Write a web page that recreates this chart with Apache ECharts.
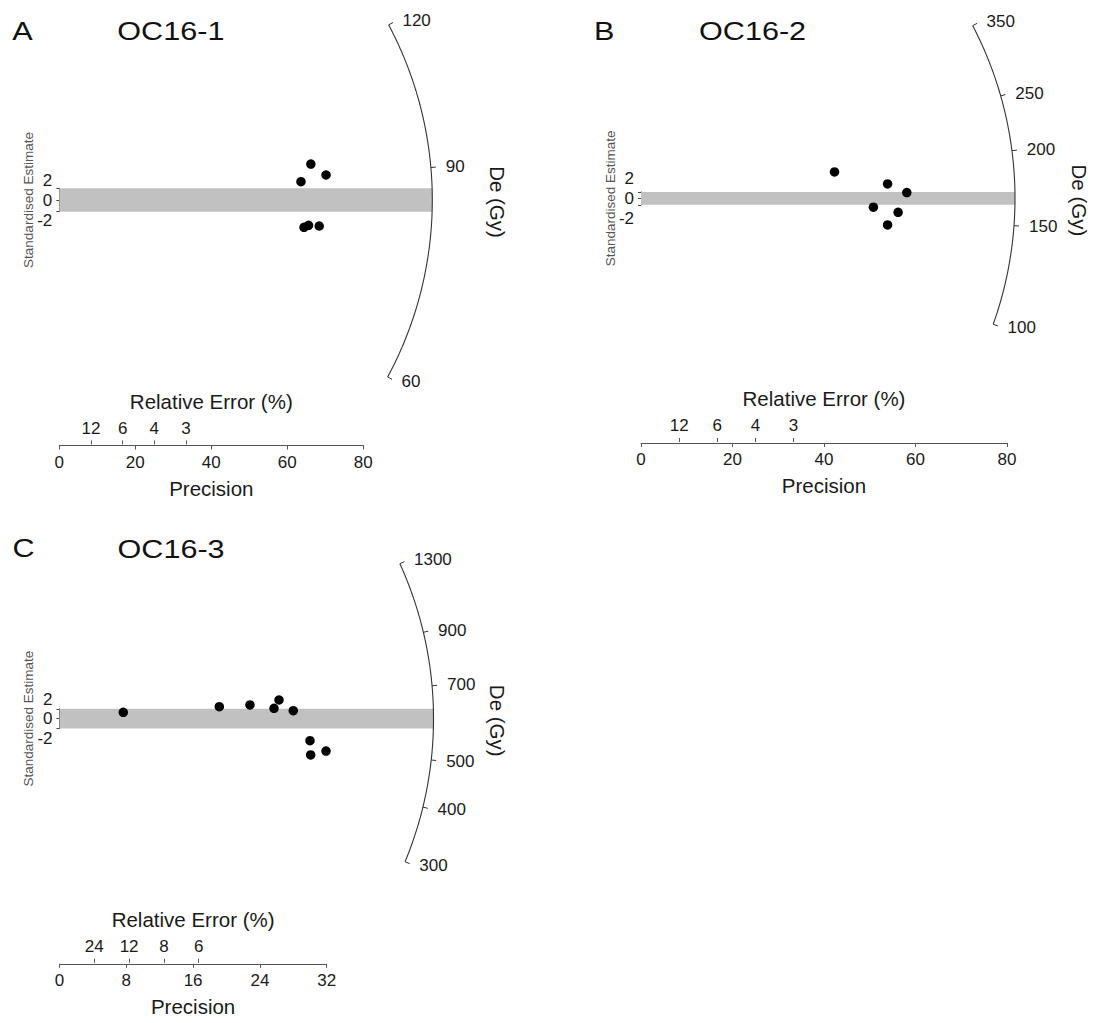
<!DOCTYPE html>
<html>
<head>
<meta charset="utf-8">
<script src="https://cdn.jsdelivr.net/npm/echarts@6/dist/echarts.min.js"></script>
<style>html,body{margin:0;padding:0;background:#fff}#c{width:1098px;height:1023px}</style>
</head>
<body>
<div id="c"></div>
<script>
// ---------------- data ----------------
const panelLetters = ['A', 'B', 'C'];
const sampleNames = ['OC16-1', 'OC16-2', 'OC16-3'];
const centralDe = [85.05, 166.5, 603];           // De (Gy) at standardised estimate 0
const deTicksA = [60, 90, 120];
const deTicksB = [100, 150, 200, 250, 350];
const deTicksC = [300, 400, 500, 700, 900, 1300];
const precisionA = [66.2, 70.2, 63.6, 64.4, 65.6, 68.4];
const stdEstA    = [6.13, 4.26, 3.12, -4.65, -4.31, -4.43];
const precisionB = [42.3, 53.9, 58.1, 50.8, 56.2, 53.9];
const stdEstB    = [8.26, 4.52, 1.81, -2.74, -4.33, -8.26];
const precisionC = [7.64, 19.14, 22.81, 25.69, 26.29, 28.0, 30.0, 30.08, 31.92];
const stdEstC    = [1.29, 2.42, 2.77, 2.10, 3.78, 1.62, -4.44, -7.33, -6.53];
const precisionMax = [80, 80, 32];
const precisionStep = [20, 20, 8];
const relErrTicksA = [12, 6, 4, 3];
const relErrTicksB = [12, 6, 4, 3];
const relErrTicksC = [24, 12, 8, 6];
const stdEstTicks = [-2, 0, 2];

// ---------------- layout (pixels) ----------------
const FONT = '"Liberation Sans", Arial, Helvetica, sans-serif';
const TXT = '#1a1a1a';
const layout = [
  { x0: 59.3, y0: 200,   sx: 3.80,  sy: 5.87,  R: 373, axisY: 445 },
  { x0: 641,  y0: 198.4, sx: 4.575, sy: 3.207, R: 374, axisY: 442.5 },
  { x0: 59.5, y0: 718.7, sx: 8.35,  sy: 4.95,  R: 374, axisY: 963.3 }
];
const panels = [
  { de: deTicksA, prec: precisionA, est: stdEstA, re: relErrTicksA },
  { de: deTicksB, prec: precisionB, est: stdEstB, re: relErrTicksB },
  { de: deTicksC, prec: precisionC, est: stdEstC, re: relErrTicksC }
];

const grids = [], xAxes = [], yAxes = [], series = [], graphics = [];

panels.forEach((pd, i) => {
  const L = layout[i];
  const de0 = centralDe[i];
  const f = L.sy / L.sx;
  // point on the De arc (log scale radial axis) at pixel radius rpx
  const arcXY = (de, rpx) => {
    const d = Math.log(de / de0);
    const r = rpx / L.sx;
    const x = r / Math.sqrt(1 + f * f * d * d);
    return [x, d * x];
  };

  // ---- main plotting grid ----
  const H = 190, W = 420;
  const gMain = grids.length;
  grids.push({ left: L.x0, top: L.y0 - H, width: W, height: 2 * H });
  const ax = xAxes.length, ay = yAxes.length;
  xAxes.push({ gridIndex: gMain, type: 'value', min: 0, max: W / L.sx, show: false });
  yAxes.push({ gridIndex: gMain, type: 'value', min: -H / L.sy, max: H / L.sy, show: false });

  const bandHalf = Math.max(...stdEstTicks);
  // grey +/-2 band
  series.push({
    type: 'custom', xAxisIndex: ax, yAxisIndex: ay, z: 1, silent: true, clip: false,
    data: [[0, 0]],
    renderItem: (params, api) => {
      const r = L.R / L.sx;
      const xr = Math.sqrt(r * r - bandHalf * bandHalf * f * f);
      const pts = [[0, -bandHalf], [0, bandHalf], [xr, bandHalf], [xr, -bandHalf]].map(q => api.coord(q));
      return { type: 'polygon', shape: { points: pts }, style: { fill: '#c1c1c1' } };
    }
  });
  // De arc
  series.push({
    type: 'custom', xAxisIndex: ax, yAxisIndex: ay, z: 2, silent: true, clip: false,
    data: [[0, 0]],
    renderItem: (params, api) => {
      const lo = Math.min(...pd.de), hi = Math.max(...pd.de);
      const pts = [];
      const N = 160;
      for (let k = 0; k <= N; k++) {
        const v = lo * Math.pow(hi / lo, k / N);
        pts.push(api.coord(arcXY(v, L.R)));
      }
      return { type: 'polyline', shape: { points: pts }, style: { stroke: '#333', lineWidth: 1.1, fill: null } };
    }
  });
  // De ticks and labels
  series.push({
    type: 'custom', xAxisIndex: ax, yAxisIndex: ay, z: 2, silent: true, clip: false,
    data: pd.de.map(v => [v, 0]),
    renderItem: (params, api) => {
      const v = pd.de[params.dataIndex];
      const a = api.coord(arcXY(v, L.R));
      const b = api.coord(arcXY(v, L.R + 5));
      const c = api.coord(arcXY(v, L.R + 10));
      return {
        type: 'group',
        children: [
          { type: 'line', shape: { x1: a[0], y1: a[1], x2: b[0], y2: b[1] }, style: { stroke: '#333', lineWidth: 1 } },
          { type: 'text', x: c[0] + 5, y: c[1], style: { text: String(v), fill: TXT, fontSize: 17, fontFamily: FONT, align: 'left', verticalAlign: 'middle' } }
        ]
      };
    }
  });
  // data points
  series.push({
    type: 'scatter', xAxisIndex: ax, yAxisIndex: ay, z: 5, silent: true,
    symbol: 'circle', symbolSize: 9.5, itemStyle: { color: '#000', opacity: 1 },
    data: pd.prec.map((x, k) => [x, pd.est[k]])
  });

  // ---- precision / relative error axis ----
  const gAx = grids.length;
  grids.push({ left: L.x0, top: L.axisY - 0.5, width: L.sx * precisionMax[i], height: 1 });
  const reVals = pd.re.map(r => 100 / r);
  xAxes.push({
    gridIndex: gAx, type: 'value', position: 'bottom', min: 0, max: precisionMax[i], interval: precisionStep[i],
    name: 'Precision', nameLocation: 'middle', nameGap: 32,
    nameTextStyle: { fontSize: 20.5, color: TXT, fontFamily: FONT },
    axisLine: { show: true, lineStyle: { color: '#555', width: 1 } },
    axisTick: { show: true, length: 4, lineStyle: { color: '#555' } },
    axisLabel: { show: true, margin: 8, fontSize: 17, color: TXT, fontFamily: FONT },
    splitLine: { show: false }
  });
  xAxes.push({
    gridIndex: gAx, type: 'value', position: 'top', min: 0, max: precisionMax[i],
    name: 'Relative Error (%)', nameLocation: 'middle', nameGap: 33,
    nameTextStyle: { fontSize: 20.5, color: TXT, fontFamily: FONT },
    axisLine: { show: false },
    axisTick: { show: true, length: 4, customValues: reVals, lineStyle: { color: '#555' } },
    axisLabel: { show: true, customValues: reVals, margin: 8, fontSize: 17, color: TXT, fontFamily: FONT,
                 formatter: v => String(Math.round(100 / v)) },
    splitLine: { show: false }
  });
  yAxes.push({ gridIndex: gAx, type: 'value', show: false });

  // ---- standardised estimate bracket ----
  const gBr = grids.length;
  grids.push({ left: L.x0, top: L.y0 - 2 * L.sy, width: 10, height: 4 * L.sy });
  xAxes.push({ gridIndex: gBr, type: 'value', show: false });
  yAxes.push({
    gridIndex: gBr, type: 'value', position: 'left', min: -2, max: 2, interval: 2,
    axisLine: { show: true, lineStyle: { color: '#444', width: 1 } },
    axisTick: { show: true, length: 3, lineStyle: { color: '#444' } },
    axisLabel: { show: false }, splitLine: { show: false }
  });
  // labels of the bracket (spread out like the original)
  const gLb = grids.length;
  grids.push({ left: L.x0, top: L.y0 - 19.5, width: 10, height: 39.5 });
  xAxes.push({ gridIndex: gLb, type: 'value', show: false });
  yAxes.push({
    gridIndex: gLb, type: 'value', position: 'left', min: -2, max: 2, interval: 2,
    axisLine: { show: false }, axisTick: { show: false }, splitLine: { show: false },
    axisLabel: { show: true, margin: 7, fontSize: 17, color: TXT, fontFamily: FONT }
  });

  // ---- texts ----
  graphics.push({ type: 'text', x: L.x0 - 47, y: i === 2 ? 548 : 31, scaleX: 1.2,
    style: { text: panelLetters[i], fontSize: 25.5, fill: '#111', fontFamily: FONT, align: 'left', verticalAlign: 'middle' } });
  graphics.push({ type: 'text', x: L.x0 + 58, y: i === 2 ? 549 : 31, scaleX: 1.2,
    style: { text: sampleNames[i], fontSize: 25.5, fill: '#111', fontFamily: FONT, align: 'left', verticalAlign: 'middle' } });
  graphics.push({ type: 'text', x: L.x0 - 31, y: L.y0, rotation: Math.PI / 2,
    style: { text: 'Standardised Estimate', fontSize: 13.5, fill: '#555', fontFamily: FONT, align: 'center', verticalAlign: 'middle' } });
  graphics.push({ type: 'text', x: L.x0 + 438, y: L.y0 + 2, rotation: -Math.PI / 2,
    style: { text: 'De (Gy)', fontSize: 20.5, fill: TXT, fontFamily: FONT, align: 'center', verticalAlign: 'middle' } });
});

const chart = echarts.init(document.getElementById('c'), null, { renderer: 'svg', width: 1098, height: 1023 });
chart.setOption({
  animation: false,
  backgroundColor: '#fff',
  grid: grids,
  xAxis: xAxes,
  yAxis: yAxes,
  series: series,
  graphic: graphics
});
</script>
</body>
</html>
